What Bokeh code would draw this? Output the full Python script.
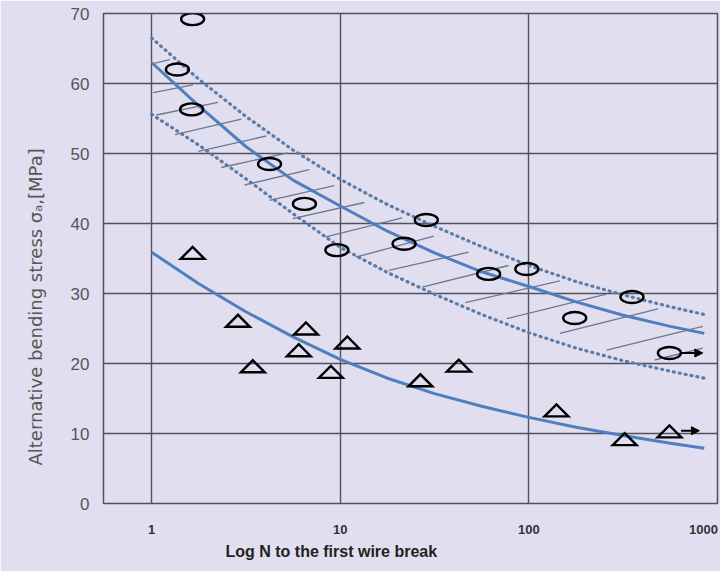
import numpy as np
from bokeh.plotting import figure
from bokeh.models import Range1d, FixedTicker, Title, ColumnDataSource, Arrow, NormalHead
from bokeh.embed import file_html
from bokeh.resources import INLINE

# ---- data ----
circle_n = [1.65, 1.37, 1.63, 4.22, 6.46, 9.6, 28.6, 21.8, 61.2, 97.5, 352, 175, 556]
circle_s = [69.2, 62.0, 56.3, 48.5, 42.8, 36.2, 40.5, 37.1, 32.8, 33.5, 29.5, 26.5, 21.5]

tri_n = [1.65, 2.87, 6.58, 10.9, 6.03, 3.44, 8.92, 42.5, 26.6, 140, 322, 556]
tri_s = [35.8, 26.1, 25.0, 23.0, 21.9, 19.6, 18.8, 19.7, 17.6, 13.3, 9.2, 10.3]

curve_n = [1, 1.78, 3.16, 5.62, 10, 17.8, 31.6, 56.2, 100, 178, 316, 562, 851]
upper_fit = [63.0, 56.8, 51.0, 46.2, 42.5, 38.9, 35.8, 33.1, 31.0, 28.8, 26.9, 25.3, 24.3]
lower_fit = [35.9, 31.4, 27.4, 23.8, 20.6, 17.9, 15.7, 13.9, 12.3, 10.9, 9.7, 8.6, 7.9]
band_upper = [66.5, 60.6, 55.3, 50.5, 46.3, 42.7, 39.6, 36.7, 34.0, 31.7, 29.8, 28.1, 27.0]
band_lower = [55.6, 51.2, 46.4, 41.4, 36.6, 33.0, 29.9, 27.0, 24.4, 22.2, 20.4, 18.9, 17.9]

hatch_n0 = [1.04, 1.02, 1.06, 1.33, 1.77, 2.34, 3.11, 4.22, 5.6, 8.39, 12.1, 18.1, 27.2, 46.0, 76.4, 146, 258, 464]
hatch_s0 = [62.9, 58.7, 55.5, 52.7, 50.3, 48.0, 45.5, 43.3, 40.7, 38.1, 35.2, 33.3, 30.9, 28.7, 26.4, 24.3, 21.9, 20.5]
hatch_n1 = [1.25, 1.66, 2.25, 2.99, 4.05, 5.27, 6.86, 9.3, 13.4, 21.3, 31.4, 48.0, 78.0, 146, 258, 483, 836, 836]
hatch_s1 = [63.4, 59.8, 57.3, 54.9, 52.5, 50.1, 47.7, 45.4, 43.0, 40.8, 38.2, 35.9, 34.0, 31.8, 29.9, 27.8, 25.3, 22.2]

arrow_n0 = [641, 641]
arrow_n1 = [836, 802]
arrow_s = [21.5, 10.4]

x_ticks = [1, 10, 100, 1000]
x_tick_labels = ["1", "10", "100", "1000"]
y_ticks = [0, 10, 20, 30, 40, 50, 60, 70]

# ---- layout / style ----
BG = "#E1DFEF"
GRID = "#50505F"
BLUE = "#4F7FBE"
DOT = "#5A7CA8"
HATCH = "#6C7890"

X_MIN, X_MAX = 0.556, 1000
W, H = 720, 571
BL, BR, BT, BB = 100, 3, 13, 68
FRAME_W = W - BL - BR
FRAME_H = H - BT - BB
dec_px = FRAME_W / (np.log10(X_MAX) - np.log10(X_MIN))
unit_px = FRAME_H / 70.0

p = figure(width=W, height=H, x_axis_type="log",
           x_range=Range1d(X_MIN, X_MAX), y_range=Range1d(0, 70),
           output_backend="svg", toolbar_location=None,
           min_border_left=BL, min_border_right=BR,
           min_border_top=BT, min_border_bottom=BB)

p.background_fill_color = BG
p.border_fill_color = BG
p.outline_line_color = GRID
p.outline_line_width = 1.5

# x tick labels: the last one is pulled left so that it stays on the canvas
label_pos = [float(t) for t in x_ticks]
label_pos[-1] = round(x_ticks[-1] / 10 ** (14 / dec_px), 1)
p.xaxis.ticker = FixedTicker(ticks=label_pos)
p.xaxis.major_label_overrides = {pos: lab for pos, lab in zip(label_pos, x_tick_labels)}
p.yaxis.ticker = FixedTicker(ticks=y_ticks)
for ax in (p.xaxis, p.yaxis):
    ax.axis_line_color = None
    ax.major_tick_line_color = None
    ax.minor_tick_line_color = None
    ax.major_tick_out = 0
    ax.major_tick_in = 0
p.xaxis.major_label_text_font = "Liberation Sans"
p.xaxis.major_label_text_font_style = "bold"
p.xaxis.major_label_text_font_size = "13px"
p.xaxis.major_label_text_color = "#333333"
p.xaxis.major_label_standoff = 21
p.yaxis.major_label_text_font = "Liberation Sans"
p.yaxis.major_label_text_font_size = "17px"
p.yaxis.major_label_text_color = "#555555"
p.yaxis.major_label_standoff = 14

p.xgrid.ticker = FixedTicker(ticks=x_ticks)
p.ygrid.ticker = FixedTicker(ticks=y_ticks)
for g in (p.xgrid, p.ygrid):
    g.grid_line_color = GRID
    g.grid_line_width = 1.4
    g.minor_grid_line_color = None

# hatch lines in the scatter band
p.segment(x0=hatch_n0, y0=hatch_s0, x1=hatch_n1, y1=hatch_s1,
          line_color=HATCH, line_width=1.3)

# band boundaries (dotted)
for band in (band_upper, band_lower):
    p.line(curve_n, band, line_color=DOT, line_width=3.2,
           line_dash="1 5", line_cap="round")

# fitted curves
p.line(curve_n, upper_fit, line_color=BLUE, line_width=3)
p.line(curve_n, lower_fit, line_color=BLUE, line_width=3)

# circles (ellipses)
p.ellipse(x=circle_n, y=circle_s, width=23, height=12,
          width_units="screen", height_units="screen",
          fill_color=None, line_color="black", line_width=2.4)

# flat triangles
kx = 10 ** (12 / dec_px)
dy = 6 / unit_px
tri_xs = [[n / kx, n * kx, n] for n in tri_n]
tri_ys = [[s - dy, s - dy, s + dy] for s in tri_s]
p.patches(tri_xs, tri_ys, fill_color=None, line_color="black",
          line_width=2.4, line_join="miter")

# run-out arrows
asrc = ColumnDataSource(dict(x0=arrow_n0, x1=arrow_n1, y=arrow_s))
p.add_layout(Arrow(x_start="x0", y_start="y", x_end="x1", y_end="y", source=asrc,
                   line_color="black", line_width=2,
                   end=NormalHead(size=8, fill_color="black", line_color="black")))

# axis titles
p.add_layout(Title(text="Alternative bending stress σₐ,[MPa]",
                   align="left", offset=38, standoff=44, vertical_align="bottom",
                   text_font="DejaVu Sans", text_font_size="18px",
                   text_font_style="normal", text_color="#555555"), "left")
p.add_layout(Title(text="Log N to the first wire break",
                   align="left", offset=122, standoff=12, vertical_align="top",
                   text_font="Liberation Sans", text_font_size="16px",
                   text_font_style="bold", text_color="#222222"), "below")

open("out.html", "w").write(file_html(p, INLINE))
